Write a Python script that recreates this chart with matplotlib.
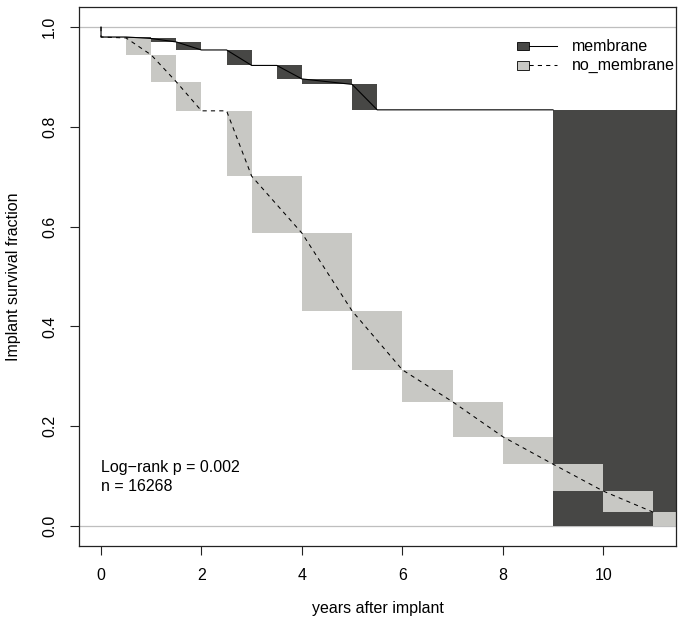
#!/usr/bin/env python3
"""Implant survival by membrane use: interval survival curves with drop boxes."""

import matplotlib

matplotlib.use("Agg")
import matplotlib.pyplot as plt  # noqa: E402
from matplotlib.patches import Rectangle  # noqa: E402

# interval knots (years) and survival fraction at each knot
MEMBRANE_TIMES = [0, 0, 0.5, 1, 1.5, 2, 2.5, 3, 3.5, 4, 5, 5.5, 9]
MEMBRANE_SURV = [1.0, 0.980, 0.980, 0.977, 0.970, 0.954, 0.954, 0.923,
                 0.923, 0.896, 0.885, 0.834, 0.834]
# last interval: drop to this value by this time (box only, no line)
MEMBRANE_END_TIME = 12.0
MEMBRANE_END_SURV = 0.0

NO_MEMBRANE_TIMES = [0, 0, 0.5, 1, 1.5, 2, 2.5, 3, 4, 5, 6, 7, 8, 9, 10, 11]
NO_MEMBRANE_SURV = [1.0, 0.980, 0.978, 0.944, 0.890, 0.832, 0.832, 0.701,
                    0.587, 0.431, 0.313, 0.249, 0.179, 0.124, 0.070, 0.0275]
NO_MEMBRANE_END_TIME = 12.0
NO_MEMBRANE_END_SURV = 0.0

GROUPS = ["membrane", "no_membrane"]
LOGRANK_P = "0.002"
N_TOTAL = 16268
X_TICKS = [0, 2, 4, 6, 8, 10]
Y_TICKS = [0.0, 0.2, 0.4, 0.6, 0.8, 1.0]

DARK_FILL = "#474745"
LIGHT_FILL = "#c8c8c4"
REF_GREY = "#bebebe"
FRAME = "#222222"
FONT = 11.5

plt.rcParams["font.family"] = ["Liberation Sans", "DejaVu Sans"]


def draw_boxes(ax, times, surv, end_time, end_surv, color, z):
    edges = list(zip(times, surv)) + [(end_time, end_surv)]
    for (t0, s0), (t1, s1) in zip(edges[:-1], edges[1:]):
        if t1 > t0 and s1 < s0:
            ax.add_patch(Rectangle((t0, s1), t1 - t0, s0 - s1,
                                   facecolor=color, edgecolor="none",
                                   linewidth=0, zorder=z))


def draw_legend(ax):
    styles = [(DARK_FILL, "-"), (LIGHT_FILL, (0, (4, 4)))]
    for i, (name, (fill, ls)) in enumerate(zip(GROUPS, styles)):
        yc = 0.928 - i * 0.036
        ax.add_patch(Rectangle((0.733, yc - 0.0082), 0.021, 0.0164,
                               transform=ax.transAxes, facecolor=fill,
                               edgecolor="black", linewidth=0.6, zorder=5))
        ax.plot([0.754, 0.801], [yc, yc], transform=ax.transAxes,
                color="black", linestyle=ls, linewidth=0.75, zorder=5)
        ax.text(0.825, yc, name, transform=ax.transAxes, fontsize=FONT,
                va="center", ha="left", zorder=5)


def main() -> None:
    fig = plt.figure(figsize=(6.83, 6.29), dpi=100)
    ax = fig.add_axes([0.1157, 0.132, 0.8741, 0.8564])

    ax.axhline(1.0, color=REF_GREY, linewidth=0.9, zorder=0.5)
    ax.axhline(0.0, color=REF_GREY, linewidth=0.9, zorder=0.5)

    draw_boxes(ax, MEMBRANE_TIMES, MEMBRANE_SURV, MEMBRANE_END_TIME,
               MEMBRANE_END_SURV, DARK_FILL, 1)
    draw_boxes(ax, NO_MEMBRANE_TIMES, NO_MEMBRANE_SURV, NO_MEMBRANE_END_TIME,
               NO_MEMBRANE_END_SURV, LIGHT_FILL, 2)

    ax.plot(MEMBRANE_TIMES, MEMBRANE_SURV, color="black", linewidth=0.8,
            zorder=3)
    ax.plot(NO_MEMBRANE_TIMES, NO_MEMBRANE_SURV, color="black",
            linewidth=0.75, linestyle=(0, (4, 4)), zorder=4)

    ax.text(0, 0.117, f"Log\u2212rank p = {LOGRANK_P}", fontsize=FONT,
            va="center", ha="left")
    ax.text(0, 0.079, f"n = {N_TOTAL}", fontsize=FONT, va="center",
            ha="left")

    draw_legend(ax)

    ax.set_xlim(-0.438, 11.45)
    ax.set_ylim(-0.04, 1.0395)
    ax.set_xticks(X_TICKS)
    ax.set_xticklabels([str(t) for t in X_TICKS])
    ax.set_yticks(Y_TICKS)
    ax.set_yticklabels([f"{t:.1f}" for t in Y_TICKS], rotation=90,
                       va="center")
    ax.tick_params(direction="out", length=6.8, width=0.8, colors=FRAME,
                   labelcolor="black", labelsize=FONT, pad=9)
    for spine in ax.spines.values():
        spine.set_color(FRAME)
        spine.set_linewidth(0.9)

    ax.set_xlabel("years after implant", fontsize=FONT, va="center")
    ax.set_ylabel("Implant survival fraction", fontsize=FONT, va="center")
    ax.xaxis.set_label_coords(0.5, -0.117)
    ax.yaxis.set_label_coords(-0.11, 0.5)

    fig.savefig("out.png", dpi=100)
    plt.close(fig)


if __name__ == "__main__":
    main()
